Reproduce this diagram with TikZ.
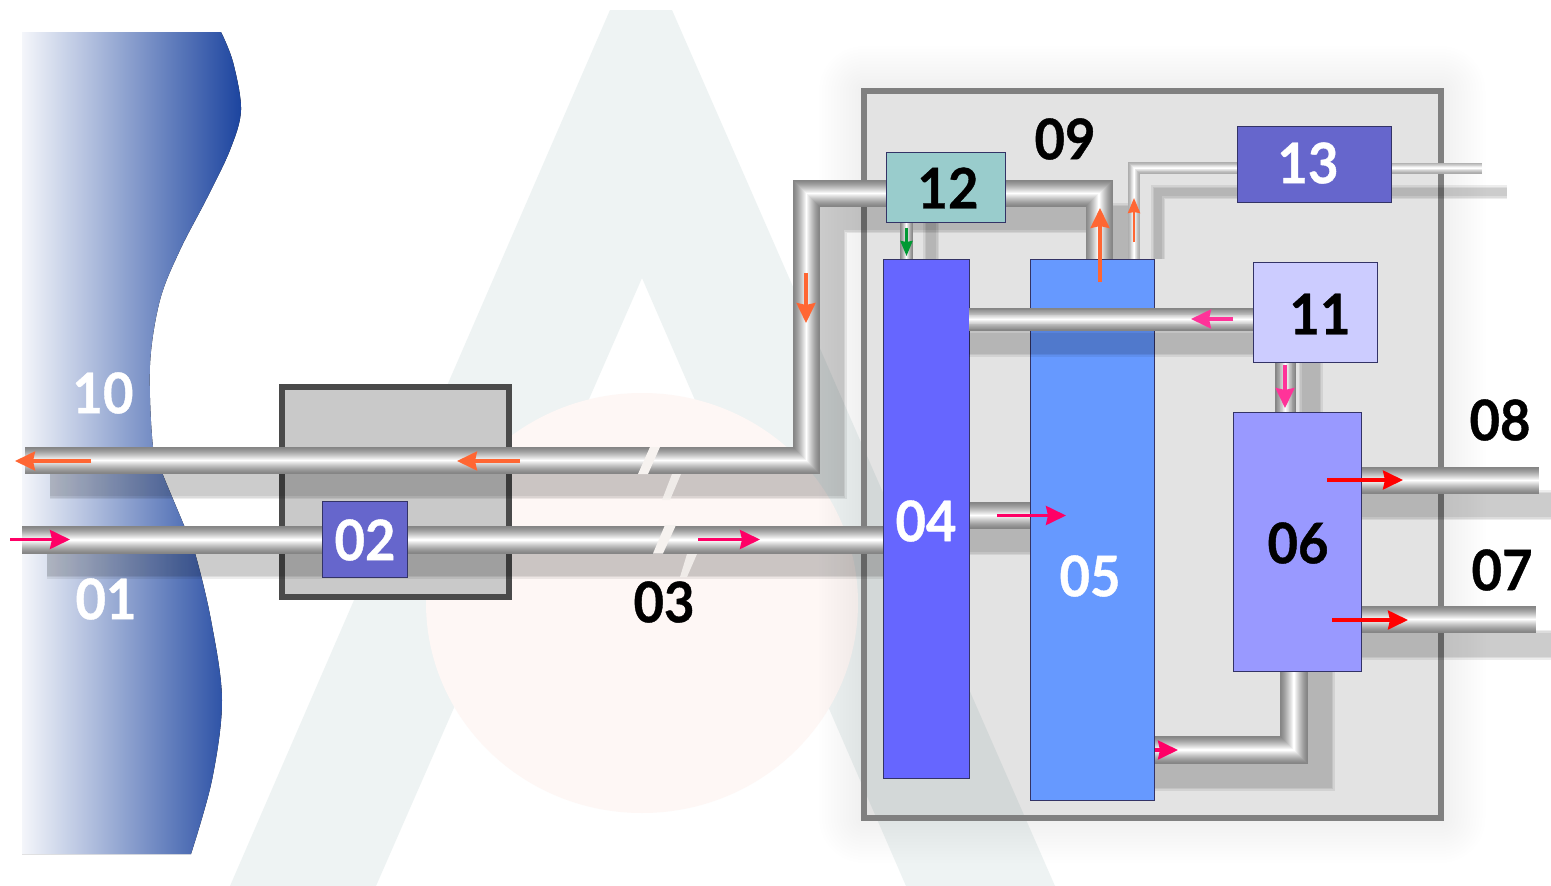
\documentclass[tikz,border=0pt]{standalone}
\usepackage{fontspec}
\setmainfont{Lato}[BoldFeatures={FakeBold=0.7,FakeStretch=0.94}]
\usetikzlibrary{calc,arrows.meta}
\definecolor{markteal}{HTML}{EEF3F3}
\definecolor{markrose}{HTML}{FEF7F5}
\definecolor{sea}{HTML}{1C449F}
\definecolor{steel}{HTML}{858585}
\definecolor{steellight}{HTML}{ABABAB}
\definecolor{wallgrey}{HTML}{808080}
\definecolor{hutgrey}{HTML}{C9C9C9}
\definecolor{hutwall}{HTML}{4A4A4A}
\definecolor{edgeblue}{HTML}{333366}
\definecolor{flowcoral}{HTML}{FF6633}
\definecolor{flowcrimson}{HTML}{FF0066}
\definecolor{flowpink}{HTML}{FF3399}
\definecolor{flowgreen}{HTML}{009933}
\definecolor{breakpale}{HTML}{F6F2EF}
\pgfdeclarelayer{scene}
\pgfdeclarelayer{pipeshadow}
\pgfdeclarelayer{pipes}
\pgfdeclarelayer{cross}
\pgfdeclarelayer{top}
\pgfsetlayers{scene,pipeshadow,pipes,main,cross,top}
\tikzset{
  unitbox/.style={draw=edgeblue,line width=.9pt,inner sep=0pt,outer sep=0pt,anchor=north west},
  tag/.style={font=\bfseries\fontsize{56}{60}\selectfont,inner sep=0pt,text=black},
  tagw/.style={tag,text=white},
  flow/.style={line width=3.2pt,-{Stealth[inset=2pt,length=20pt,width=19pt]}},
  flowsmall/.style={line width=2.6pt,-{Stealth[inset=1pt,length=15pt,width=12pt]}}
}
% one pipe: a stack of strokes running from a grey edge to a white core
\newcommand{\pipe}[3]{%
  \foreach \i in {0,...,13}{%
    \pgfmathsetmacro\pipew{#2*(1-\i/14)}%
    \pgfmathsetmacro\pipec{100*(\i/13)^1.3}%
    \draw[line width=\pipew pt,color=white!\pipec!#1,miter limit=10] #3;
  }%
}
% soft-edged cast shadow of a pipe
\newcommand{\pipeshade}[2]{%
  \foreach \d in {3,0,-3}{%
    \pgfmathsetmacro\pipew{#1+\d}%
    \draw[line width=\pipew pt,color=black,draw opacity=.07,miter limit=10] #2;
  }%
}
\newcommand{\flowarrow}[5]{%
  \coordinate (#1-a) at #4;
  \coordinate (#1-b) at #5;
  \draw[#2,color=#3] (#1-a) -- (#1-b);
}
\begin{document}
\begin{tikzpicture}[x=1pt,y=-1pt]
\useasboundingbox (0,0) rectangle (1551,886);

\begin{pgfonlayer}{scene}
  \fill[white] (0,0) rectangle (1551,886);
  % emblem behind the plant
  \fill[markteal,even odd rule]
    (610,10) -- (672,10) -- (1055,886) -- (906,886) -- (642,278) -- (376,886) -- (230,886) -- cycle;
  \fill[markrose] (642,603) ellipse[x radius=216,y radius=210];
  % the sea
  \fill[left color=sea!5!white,right color=sea]
    plot[smooth,tension=.55] coordinates {(221,32) (233,62) (241,110) (230,150) (207,198) (180,250) (160,300) (150,365) (153,447) (163,475) (183,523) (195,553) (211,620) (222,700) (212,780) (191,854)}
    -- (22,854) -- (22,32) -- cycle;
  % halo around the plant enclosure
  \foreach \g in {3,6,...,45}{
    \fill[black,fill opacity=.0055,even odd rule,rounded corners=\g pt]
      (864-\g,91-\g) rectangle (1440.5+\g,818+\g)
      [sharp corners] (864,91) rectangle (1440.5,818);
  }
  % plant enclosure and intake chamber
  \path[fill=black,fill opacity=.11] (864,91) rectangle (1440.5,818);
  \draw[wallgrey,line width=6pt] (864,91) rectangle (1440.5,818);
  \draw[hutwall,line width=6pt,fill=hutgrey] (282,387) rectangle (509,597);
\end{pgfonlayer}

% equipment
\node[unitbox,fill={rgb,255:red,102;green,102;blue,255},minimum width=86pt,minimum height=519pt] (b04) at (883,259) {};
\node[unitbox,fill={rgb,255:red,102;green,153;blue,255},minimum width=124pt,minimum height=541pt] (b05) at (1030,259) {};
\node[unitbox,fill={rgb,255:red,153;green,153;blue,255},minimum width=128pt,minimum height=259pt] (b06) at (1233,412) {};
\node[unitbox,fill={rgb,255:red,102;green,102;blue,204},minimum width=85pt,minimum height=76pt] (b02) at (322,501) {};
\node[unitbox,fill={rgb,255:red,153;green,204;blue,204},minimum width=119pt,minimum height=70pt] (b12) at (886,152) {};
\node[unitbox,fill={rgb,255:red,102;green,102;blue,204},minimum width=154pt,minimum height=76pt] (b13) at (1237,126) {};

\begin{pgfonlayer}{top}
  \node[unitbox,fill={rgb,255:red,204;green,204;blue,255},minimum width=124pt,minimum height=100pt] (b11) at (1253,262) {};
\end{pgfonlayer}

% free pipe ends
\coordinate (outfall) at (25,460.5);
\coordinate (intake) at (22,539.5);
\coordinate (out08) at (1539,480.5);
\coordinate (out07) at (1536,619.5);
\coordinate (out13) at (1482,168);

\begin{pgfonlayer}{pipeshadow}
  \pipeshade{27}{(50,484) -- (831.5,484) -- (831.5,218) -- (1124,218) -- (1124,259)}
  \pipeshade{27}{(47,563.5) -- (883,563.5)}
  \pipeshade{27}{(969,540) -- (1030,540)}
  \pipeshade{21}{(1310.5,362) -- (1310.5,412)}
  \pipeshade{28}{(1319,671) -- (1319,775) -- (1154,775)}
  \pipeshade{27}{(1361,505) -- (1551,505)}
  \pipeshade{27}{(1361,644.5) -- (1551,644.5)}
  \pipeshade{13}{(931,222) -- (931,259)}
  \pipeshade{11}{(1158,259) -- (1158,192) -- (1237,192)}
  \pipeshade{11}{(1391,192) -- (1507,192)}
\end{pgfonlayer}

\begin{pgfonlayer}{pipes}
  \pipe{steel}{27}{(outfall) -- (806.5,460.5) -- (806.5,193.5) -- (b12.west |- 0,193.5)}
  \pipe{steel}{27}{(b12.east |- 0,193.5) -- (1099,193.5) -- (1099,0 |- b05.north)}
  \pipe{steel}{28}{(intake) -- (b04.west |- intake)}
  \pipe{steel}{27}{(b04.east |- 0,515.5) -- (b05.west |- 0,515.5)}
  \pipe{steel}{21}{(1285.5,0 |- b11.south) -- (1285.5,0 |- b06.north)}
  \pipe{steel}{28}{(1294,0 |- b06.south) -- (1294,750) -- (b05.east |- 0,750)}
  \pipe{steel}{27}{(b06.east |- out08) -- (out08)}
  \pipe{steel}{27}{(b06.east |- out07) -- (out07)}
  \pipe{steel}{13}{(906.5,0 |- b12.south) -- (906.5,0 |- b04.north)}
  \pipe{steellight}{12}{(1134,0 |- b05.north) -- (1134,168) -- (b13.west |- 0,168)}
  \pipe{steellight}{11}{(b13.east |- out13) -- (out13)}
  % breaks in the long pipe runs and their shadows
  \fill[breakpale] (650,447) -- (660,447) -- (648,474) -- (638,474) -- cycle;
  \fill[breakpale] (665,525) -- (676,525) -- (663,553.5) -- (653,553.5) -- cycle;
  \fill[breakpale,fill opacity=.85] (672,474) -- (681,474) -- (670,500) -- (662,500) -- cycle;
  \fill[breakpale,fill opacity=.85] (687,554) -- (697,554) -- (687,577) -- (680,577) -- cycle;
\end{pgfonlayer}

% return line from 11 passes in front of 05
\begin{pgfonlayer}{cross}
  \pipeshade{24}{(b04.east |- 0,343) -- (b11.west |- 0,343)}
  \pipe{steel}{23}{(b04.east |- 0,319.5) -- (b11.west |- 0,319.5)}
\end{pgfonlayer}

\begin{pgfonlayer}{top}
  \flowarrow{f1}{flow}{flowcoral}{(91,461)}{(15,461)}
  \flowarrow{f2}{flow}{flowcoral}{(520,461)}{(457,461)}
  \flowarrow{f3}{flow}{flowcoral}{(806,273)}{(806,323)}
  \flowarrow{f4}{flow}{flowcoral}{(1100,282)}{(1100,208)}
  \flowarrow{f5}{flowsmall}{flowcoral}{(1134,242)}{(1134,198)}
  \flowarrow{f6}{flowsmall}{flowgreen}{(906.5,228)}{(906.5,256)}
  \flowarrow{f7}{flow}{flowcrimson}{(10,539.5)}{(70,539.5)}
  \flowarrow{f8}{flow}{flowcrimson}{(698,539.5)}{(760,539.5)}
  \flowarrow{f9}{flow}{flowcrimson}{(997,515.5)}{(1066,515.5)}
  \flowarrow{f10}{flow}{flowpink}{(1233,319)}{(1191,319)}
  \flowarrow{f11}{flow}{flowpink}{(1285,365)}{(1285,408)}
  \flowarrow{f12}{flow}{red}{(1327,480)}{(1403,480)}
  \flowarrow{f13}{flow}{red}{(1332,620)}{(1408,620)}
  \flowarrow{f14}{flow}{flowcrimson}{(1155,750)}{(1178,750)}

  \node[tagw] (t10) at (103,393) {10};
  \node[tagw] (t01) at (106,599) {01};
  \node[tagw] (t02) at (365,540) {02};
  \node[tag] (t03) at (664,602) {03};
  \node[tagw] (t04) at (926,521) {04};
  \node[tagw] (t05) at (1090,576) {05};
  \node[tag] (t06) at (1298,543) {06};
  \node[tag] (t07) at (1502,570) {07};
  \node[tag] (t08) at (1500,420) {08};
  \node[tag] (t09) at (1065,139) {09};
  \node[tag] (t11) at (1320,314) {11};
  \node[tag] (t12) at (948,188) {12};
  \node[tagw] (t13) at (1308,163) {13};
\end{pgfonlayer}
\end{tikzpicture}
\end{document}
